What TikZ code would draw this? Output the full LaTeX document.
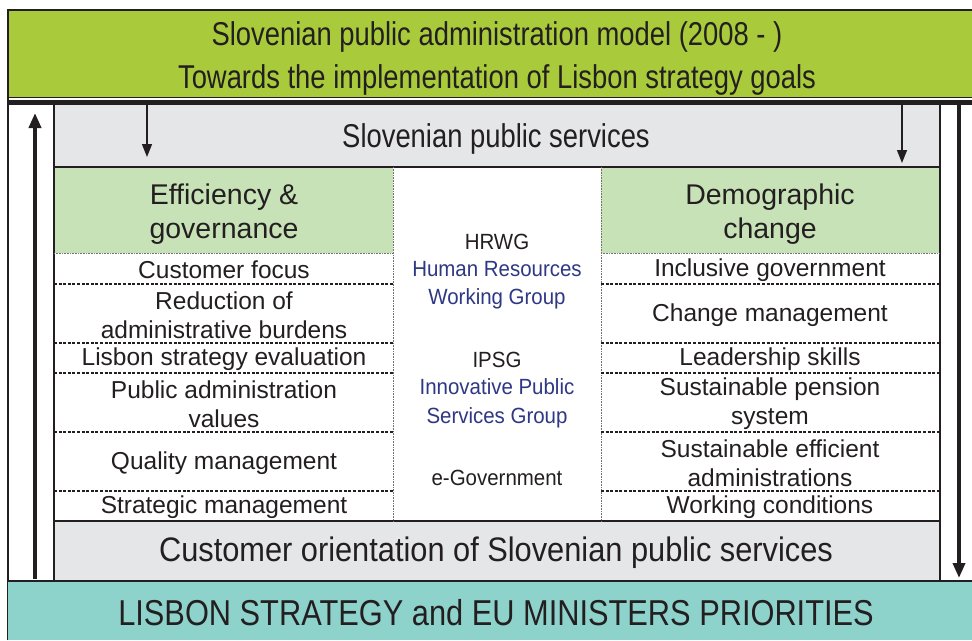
\documentclass[tikz,border=0pt]{standalone}
\usepackage{fontspec}
\setmainfont{Liberation Sans}
\newfontfamily\condA[FakeStretch=0.83]{Liberation Sans}
\newfontfamily\condB[FakeStretch=0.93]{Liberation Sans}
\newfontfamily\condC[FakeStretch=0.905]{Liberation Sans}
\newfontfamily\condD[FakeStretch=0.855]{Liberation Sans}
\usetikzlibrary{arrows.meta}
\definecolor{topgreen}{RGB}{169,203,59}
\definecolor{hdrgreen}{RGB}{199,226,183}
\definecolor{boxgray}{RGB}{229,230,231}
\definecolor{teal}{RGB}{142,210,204}
\definecolor{txt}{RGB}{35,31,32}
\definecolor{grpblue}{RGB}{46,56,132}
\tikzset{
  bigtitle/.style={text=txt,font=\condA\fontsize{33}{43}\selectfont,align=center,inner sep=0pt},
  bottomtitle/.style={text=txt,font=\condD\fontsize{36}{40}\selectfont,inner sep=0pt},
  hdr/.style={text=txt,font=\fontsize{28.5}{34}\selectfont,align=center,inner sep=0pt},
  rowtext/.style={text=txt,font=\fontsize{24.5}{29}\selectfont,align=center,inner sep=0pt},
  midtext/.style={text=txt,font=\condB\fontsize{22}{28.5}\selectfont,align=center,inner sep=0pt},
  midblue/.style={midtext,text=grpblue},
  rowsep/.style={draw=txt,line width=1.1pt,dash pattern=on 3pt off 1.6pt},
  coldot/.style={draw=black!55,line width=1pt,dash pattern=on 0.8pt off 0.8pt},
  thinarrow/.style={draw=txt,line width=1.4pt,-{Triangle[length=13pt,width=10pt]}},
  thickarrow/.style={draw=txt,line width=3.6pt,-{Triangle[length=15pt,width=12pt]}},
}
\begin{document}
\begin{tikzpicture}[x=1pt,y=-1pt]
\useasboundingbox (0,0) rectangle (972,640);
% top green band
\fill[topgreen] (8,10) rectangle (972,97);
\draw[txt,line width=1.6pt] (8,640) -- (8,10) -- (972,10);
\draw[txt,line width=1.3pt] (8,97.5) -- (972,97.5);
\draw[txt,line width=4.5pt] (8,102.5) -- (972,102.5);
% bottom teal band
\fill[teal] (8,581) rectangle (972,640);
% gray main box
\fill[boxgray] (54,105) rectangle (940,581);
\fill[white] (54,167) rectangle (940,521);
\fill[hdrgreen] (54,167) rectangle (393,253);
\fill[hdrgreen] (601,167) rectangle (940,253);
\draw[txt,line width=1.6pt] (54,105) -- (54,582);
\draw[txt,line width=1.6pt] (940,105) -- (940,582);
\draw[txt,line width=1.6pt] (54,167) -- (940,167);
\draw[txt,line width=1.6pt] (54,521) -- (940,521);
\draw[txt,line width=1.8pt] (8,581) -- (972,581);
% column borders and header underline
\draw[coldot] (393,167) -- (393,521);
\draw[coldot] (601,167) -- (601,521);
\draw[coldot] (54,253.5) -- (393,253.5);
\draw[coldot] (601,253.5) -- (940,253.5);
% row separators
\foreach \yy in {284,343,373,432,491}{
  \draw[rowsep] (54,\yy) -- (393,\yy);
  \draw[rowsep] (601,\yy) -- (940,\yy);
}
% texts
\node[bigtitle] (title) at (497,58) {Slovenian public administration model (2008 - )\\Towards the implementation of Lisbon strategy goals};
\node[bigtitle] (services) at (496,139) {Slovenian public services};
\node[hdr] (effhdr) at (224,214) {Efficiency \&\\governance};
\node[hdr] (demhdr) at (770,214) {Demographic\\change};
\node[rowtext] (l1) at (224,270) {Customer focus};
\node[rowtext] (l2) at (224,315) {Reduction of\\administrative burdens};
\node[rowtext] (l3) at (224,359.5) {Lisbon strategy evaluation};
\node[rowtext] (l4) at (224,404) {Public administration\\values};
\node[rowtext] (l5) at (224,463) {Quality management};
\node[rowtext] (l6) at (224,507.5) {Strategic management};
\node[rowtext] (r1) at (770,270.5) {Inclusive government};
\node[rowtext] (r2) at (770,315) {Change management};
\node[rowtext] (r3) at (770,359.5) {Leadership skills};
\node[rowtext] (r4) at (770,404) {Sustainable pension\\system};
\node[rowtext] (r5) at (770,463) {Sustainable efficient\\administrations};
\node[rowtext] (r6) at (770,507.5) {Working conditions};
\node[midtext] (hrwg) at (497,242) {HRWG};
\node[midblue] (hrwgfull) at (497,285) {Human Resources\\Working Group};
\node[midtext] (ipsg) at (497,360) {IPSG};
\node[midblue] (ipsgfull) at (497,403.5) {Innovative Public\\Services Group};
\node[midtext] (egov) at (497,478) {e-Government};
\node[text=txt,font=\condC\fontsize{34}{40}\selectfont,inner sep=0pt] (custor) at (496,553) {Customer orientation of Slovenian public services};
\node[bottomtitle] (lisbon) at (496,613) {LISBON STRATEGY and EU MINISTERS PRIORITIES};
% arrows
\coordinate (a1s) at (147,104);
\coordinate (a1e) at (147,157);
\coordinate (a2s) at (902,104);
\coordinate (a2e) at (902,163);
\coordinate (a3s) at (35,579);
\coordinate (a3e) at (35,113);
\coordinate (a4s) at (959,105);
\coordinate (a4e) at (959,578);
\draw[thinarrow] (a1s) -- (a1e);
\draw[thinarrow] (a2s) -- (a2e);
\draw[thickarrow] (a3s) -- (a3e);
\draw[thickarrow] (a4s) -- (a4e);
\end{tikzpicture}
\end{document}
